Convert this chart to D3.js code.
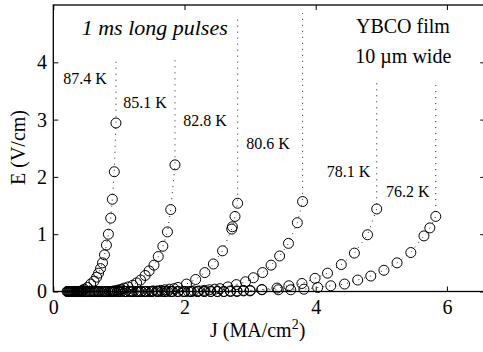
<!DOCTYPE html>
<html><head><meta charset="utf-8">
<script src="https://cdn.jsdelivr.net/npm/d3@7"></script>
<style>
html,body{margin:0;padding:0;background:#fff;}
svg text{font-family:"Liberation Serif","Times New Roman",serif;}
</style></head>
<body>
<script>
// ---- data ----
const seriesNames = ["87.4 K","85.1 K","82.8 K","80.6 K","78.1 K","76.2 K"];

const J874 = [0.21,0.22,0.23,0.24,0.25,0.26,0.27,0.28,0.29,0.30,0.31,0.32,0.33,0.34,0.35,0.36,0.37,0.38,0.39,0.40,0.41,0.42,0.43,0.45,0.47,0.52,0.57,0.62,0.66,0.69,0.72,0.75,0.78,0.81,0.84,0.875,0.90,0.93,0.955];
const E874 = [0,0,0,0,0,0,0,0,0,0,0,0,0,0,0,0,0,0,0,0,0,0,0.01,0.02,0.04,0.07,0.13,0.18,0.25,0.32,0.40,0.50,0.64,0.81,1.00,1.28,1.61,2.09,2.94];

const J851 = [0.44,0.47,0.50,0.53,0.56,0.59,0.62,0.65,0.68,0.71,0.74,0.77,0.80,0.83,0.86,0.89,0.92,0.95,0.98,1.01,1.04,1.08,1.14,1.21,1.27,1.33,1.40,1.46,1.535,1.60,1.67,1.74,1.79,1.855];
const E851 = [0,0,0,0,0,0,0,0,0,0,0,0,0,0,0,0,0.01,0.01,0.02,0.03,0.04,0.06,0.08,0.11,0.15,0.20,0.28,0.36,0.46,0.61,0.79,1.04,1.43,2.21];

const J828 = [0.50,0.56,0.62,0.68,0.74,0.80,0.86,0.92,0.98,1.04,1.10,1.16,1.22,1.28,1.34,1.40,1.46,1.52,1.58,1.64,1.70,1.77,1.84,1.90,2.03,2.17,2.31,2.44,2.58,2.72,2.73,2.77,2.81];
const E828 = [0,0,0,0,0,0,0,0,0,0,0,0,0,0,0,0,0,0.01,0.01,0.02,0.03,0.04,0.05,0.07,0.13,0.21,0.33,0.48,0.71,1.09,1.13,1.31,1.54];

const J806 = [0.70,0.78,0.86,0.94,1.02,1.10,1.18,1.26,1.34,1.42,1.50,1.58,1.66,1.74,1.82,1.90,1.98,2.06,2.14,2.22,2.30,2.38,2.46,2.54,2.66,2.79,2.93,3.05,3.19,3.32,3.45,3.585,3.72,3.80];
const E806 = [0,0,0,0,0,0,0,0,0,0,0,0,0,0,0,0,0,0,0.01,0.01,0.02,0.03,0.04,0.05,0.08,0.12,0.17,0.24,0.33,0.46,0.62,0.84,1.20,1.57];

const J781 = [0.90,1.00,1.10,1.20,1.30,1.40,1.50,1.60,1.70,1.80,1.90,2.00,2.10,2.20,2.30,2.40,2.50,2.60,2.70,2.80,2.90,3.00,3.18,3.41,3.59,3.79,3.99,4.18,4.39,4.59,4.79,4.93];
const E781 = [0,0,0,0,0,0,0,0,0,0,0,0,0,0,0,0,0,0,0.01,0.01,0.02,0.02,0.035,0.06,0.10,0.14,0.23,0.32,0.47,0.67,0.99,1.44];

const J762 = [1.10,1.20,1.30,1.40,1.50,1.60,1.70,1.80,1.90,2.00,2.10,2.20,2.30,2.40,2.50,2.60,2.70,2.80,2.90,3.00,3.18,3.43,3.62,3.82,4.03,4.23,4.44,4.64,4.84,5.04,5.24,5.45,5.65,5.74,5.83];
const E762 = [0,0,0,0,0,0,0,0,0,0,0,0,0,0,0,0,0,0,0.01,0.01,0.03,0.03,0.03,0.04,0.07,0.10,0.13,0.20,0.27,0.37,0.50,0.68,0.97,1.11,1.31];

// E value where each dotted (switching) line ends
const jumpTop = [4.07,4.04,4.77,4.86,3.69,3.60];

const xTicks = [0,2,4,6];
const yTicks = [0,1,2,3,4];

// label anchor (data units)
const labelAt = [[0.15,3.62],[1.067,3.197],[1.98,2.89],[2.94,2.48],[4.17,2.0],[5.07,1.65]];

// ---- drawing ----
const SERIF = '"Liberation Serif","Times New Roman",serif';
const W = 483, H = 352;
const svg = d3.select("body").append("svg").attr("width",W).attr("height",H);
const L = 53.3, R = 484.3, T = 5, B = 291.5;
const x = d3.scaleLinear().domain([0,6.57]).range([L,R]);
const y = d3.scaleLinear().domain([0,5]).range([B,T]);

const Js = [J874,J851,J828,J806,J781,J762];
const Es = [E874,E851,E828,E806,E781,E762];

const plot = svg.append("g");
const line = d3.line().x(d=>x(d[0])).y(d=>y(d[1]));

Js.forEach((J,i)=>{
  const pts = J.map((v,k)=>[v,Es[i][k]]);
  const lpts = pts.concat([[J[J.length-1], jumpTop[i]]]);
  plot.append("path").attr("d",line(lpts)).attr("fill","none")
    .attr("stroke","#222").attr("stroke-width",1).attr("stroke-dasharray","1 5");
  plot.selectAll(null).data(pts).enter().append("circle")
    .attr("cx",d=>x(d[0])).attr("cy",d=>y(d[1])).attr("r",5)
    .attr("fill","none").attr("stroke","#000").attr("stroke-width",1);
});

// axes
const fs = 20;
const gx = svg.append("g").attr("transform",`translate(0,${B})`)
  .call(d3.axisBottom(x).tickValues(xTicks).tickSize(-5).tickPadding(8.3).tickFormat(d3.format("d")));
const gxt = svg.append("g").attr("transform",`translate(0,${T})`)
  .call(d3.axisTop(x).tickValues(xTicks).tickSize(-5).tickFormat(""));
const gy = svg.append("g").attr("transform",`translate(${L},0)`)
  .call(d3.axisLeft(y).tickValues(yTicks).tickSize(-5).tickPadding(6.3).tickFormat(d3.format("d")));
const gyr = svg.append("g").attr("transform",`translate(${R},0)`)
  .call(d3.axisRight(y).tickValues(yTicks).tickSize(-4).tickFormat(""));
[gx,gxt,gy,gyr].forEach(g=>{
  g.attr("font-family",null).attr("font-size",null);
  g.select(".domain").remove();
  g.selectAll(".tick line").attr("stroke","#000").attr("stroke-width",1);
  g.selectAll(".tick text").style("font-size",fs+"px").style("font-family",SERIF).attr("fill","#000");
});

svg.append("rect").attr("x",L).attr("y",T).attr("width",R-L).attr("height",B-T)
  .attr("fill","none").attr("stroke","#000").attr("stroke-width",1.3);

// axis titles
svg.append("text").attr("x",210).attr("y",337).style("font-size",fs+"px").style("font-family",SERIF)
  .html('J (MA/cm<tspan dy="-8" style="font-size:14px">2</tspan><tspan dy="8">)</tspan>');
svg.append("text").attr("transform","translate(25,147.5) rotate(-90)")
  .attr("text-anchor","middle").style("font-size",fs+"px").style("font-family",SERIF).text("E (V/cm)");

// annotations
svg.append("text").attr("x",81.7).attr("y",35).style("font-size","22px").style("font-family",SERIF)
  .style("font-style","italic").text("1 ms long pulses");
svg.append("text").attr("x",356).attr("y",33).style("font-size","20px").style("font-family",SERIF).text("YBCO film");
svg.append("text").attr("x",355.3).attr("y",63).style("font-size","20px").style("font-family",SERIF).text("10 \u00b5m wide");

seriesNames.forEach((s,i)=>{
  svg.append("text").attr("x",x(labelAt[i][0])).attr("y",y(labelAt[i][1]))
    .style("font-size","16px").style("font-family",SERIF).text(s);
});
</script>
</body></html>
